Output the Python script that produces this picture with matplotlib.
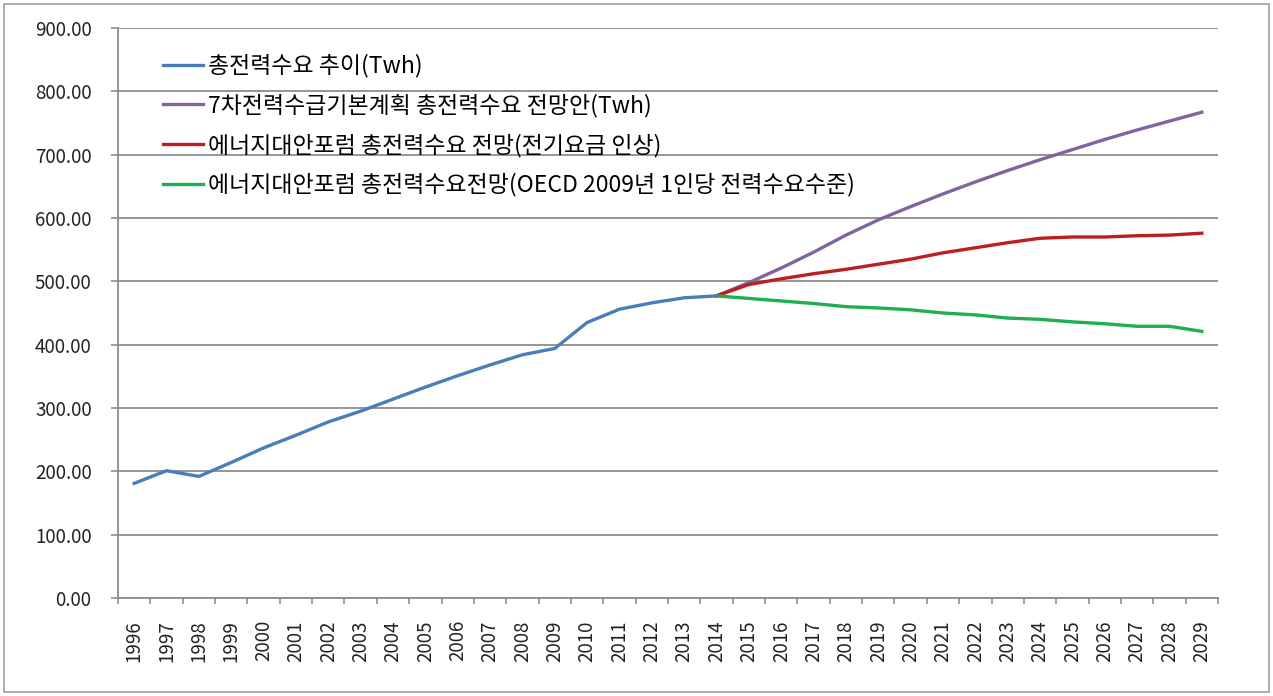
import numpy as np
import matplotlib.pyplot as plt
from matplotlib.patches import Rectangle

plt.rcParams['font.family'] = ['Noto Sans CJK KR', 'DejaVu Sans']

years = [str(y) for y in range(1996, 2030)]

# 총전력수요 추이 (1996-2014)
actual_years = list(range(1996, 2015))
actual = [181, 201, 192, 214, 237, 257, 278, 295, 314, 333, 351, 368, 384, 394,
          435, 456, 466, 474, 477]

# projections (2014-2029)
proj_years = list(range(2014, 2030))
plan7 = [477, 498, 521, 546, 573, 597, 618, 638, 657, 675, 692, 708, 724, 739, 753, 767]
forum_price = [477, 495, 504, 512, 519, 527, 535, 545, 553, 561, 568, 570, 570, 572, 573, 576]
forum_oecd = [477, 473, 469, 465, 460, 458, 455, 450, 447, 442, 440, 436, 433, 429, 429, 421]

labels = [
    "총전력수요 추이(Twh)",
    "7차전력수급기본계획 총전력수요 전망안(Twh)",
    "에너지대안포럼 총전력수요 전망(전기요금 인상)",
    "에너지대안포럼 총전력수요전망(OECD 2009년 1인당 전력수요수준)",
]
colors = ["#4A7EBB", "#8064A2", "#BE1E1E", "#1DAF50"]

W, H = 1273, 696
fig = plt.figure(figsize=(W / 100, H / 100), dpi=100)
ax = fig.add_axes([118 / W, 1 - 598 / H, (1218 - 118) / W, (598 - 28) / H])

first = 1996
xa = [y - first for y in actual_years]
xp = [y - first for y in proj_years]
lw = 2.4
ax.plot(xa, actual, color=colors[0], lw=lw, label=labels[0], zorder=5)
ax.plot(xp, plan7, color=colors[1], lw=lw, label=labels[1], zorder=3)
ax.plot(xp, forum_price, color=colors[2], lw=lw, label=labels[2], zorder=4)
ax.plot(xp, forum_oecd, color=colors[3], lw=lw, label=labels[3], zorder=4)

ax.set_xlim(-0.5, len(years) - 0.5)
ax.set_ylim(0, 900)
ax.set_yticks(np.arange(0, 901, 100))
ax.yaxis.set_major_formatter(lambda v, _: f"{v:.2f}")
ax.grid(axis="y", color="#8C8C8C", lw=1.3)
ax.set_axisbelow(True)

ax.set_xticks(range(len(years)))
ax.set_xticklabels(years, rotation=90)
ax.set_xticks(np.arange(-0.5, len(years), 1), minor=True)
ax.tick_params(axis="x", which="major", length=0, pad=16, labelsize=13.5, labelcolor="#222222")
ax.tick_params(axis="x", which="minor", length=4, width=1.2, color="#8C8C8C")
ax.tick_params(axis="y", length=5, width=1.2, color="#8C8C8C", pad=14,
               labelsize=13.5, labelcolor="#222222")

for s in ["top", "right"]:
    ax.spines[s].set_visible(False)
for s in ["left", "bottom"]:
    ax.spines[s].set_color("#8C8C8C")
    ax.spines[s].set_linewidth(1.3)

ax.legend(loc="upper left", bbox_to_anchor=(163 / W, 1 - 54 / H),
          bbox_transform=fig.transFigure, frameon=False, fontsize=16.5,
          handlelength=1.75, handletextpad=0.2, labelspacing=0.7,
          borderaxespad=0, borderpad=0)

fig.patches.append(Rectangle((4 / W, 4 / H), (W - 8) / W, (H - 8) / H,
                             transform=fig.transFigure, fill=False,
                             edgecolor="#A0A0A0", lw=1.2))

fig.savefig("out.png", dpi=100)
